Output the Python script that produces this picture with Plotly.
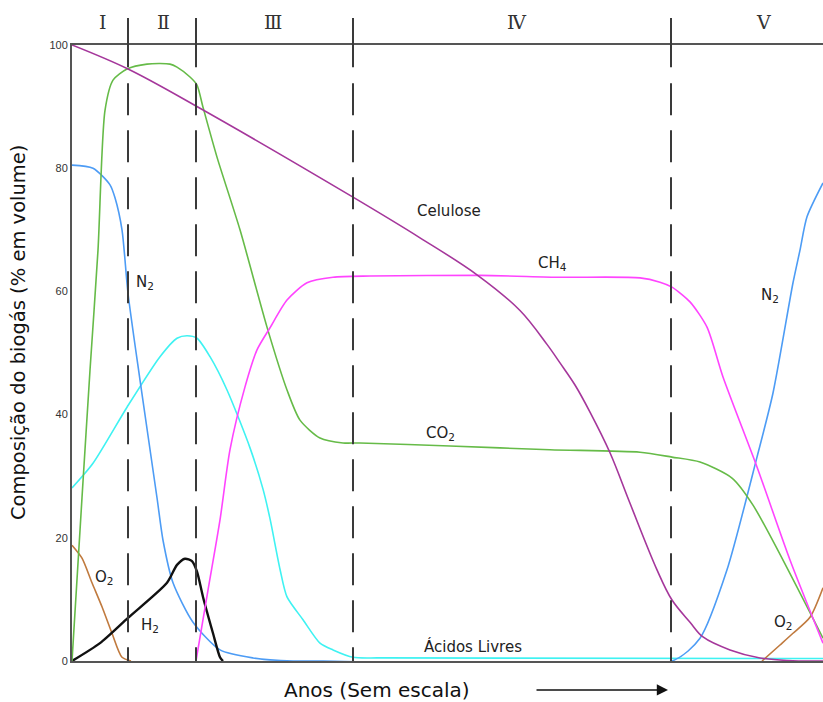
import plotly.graph_objects as go

# Tempo em unidades arbitrárias (sem escala); valores em % do volume
celulose_x = [0, 56, 124, 281, 348, 405, 448, 475, 488, 503, 518, 538, 558, 585, 600, 618, 631, 658, 688, 728, 751]
celulose_y = [100.0, 96.1, 90.1, 75.3, 68.7, 62.7, 56.9, 51.4, 48.4, 44.8, 40.4, 33.8, 25.6, 14.8, 9.9, 6.3, 3.9, 1.8, 0.5, 0, 0]

ch4_x = [124, 136, 148, 158, 173, 185, 198, 215, 235, 261, 298, 408, 488, 568, 588, 600, 618, 635, 651, 685, 718, 751]
ch4_y = [0, 11.5, 22.9, 34.3, 44.5, 50.5, 54.1, 58.6, 61.4, 62.3, 62.5, 62.6, 62.3, 62.2, 61.5, 60.7, 58.3, 54.2, 46.1, 31.5, 16.4, 2.9]

co2_x = [0, 10, 18, 26, 33, 41, 55, 75, 98, 105, 118, 125, 131, 145, 168, 195, 215, 228, 248, 271, 288, 378, 478, 568, 600, 628, 660, 681, 751]
co2_y = [0, 26.5, 47.2, 66.7, 89.4, 94.3, 96.1, 96.9, 96.9, 96.4, 94.8, 93.5, 89.9, 81.8, 70.0, 54.2, 44.0, 39.1, 36.2, 35.4, 35.4, 34.9, 34.3, 33.9, 33.1, 32.3, 29.7, 25.3, 3.7]

n2_x = [0, 21, 38, 43, 50, 56, 68, 85, 91, 101, 121, 148, 181, 221, 251, 600, 628, 655, 685, 701, 721, 728, 735, 751]
n2_y = [80.5, 80.0, 77.3, 75.2, 70.0, 59.7, 45.6, 26.5, 19.6, 12.7, 6.3, 1.8, 0.5, 0, 0, 0, 3.7, 14.8, 33.1, 43.5, 61.4, 66.7, 72.1, 77.6]

acidos_x = [0, 21, 55, 88, 105, 115, 125, 138, 155, 178, 191, 198, 208, 215, 231, 248, 261, 281, 308, 751]
acidos_y = [28.1, 32.1, 41.2, 49.4, 52.4, 52.8, 52.4, 49.4, 44.0, 34.6, 27.9, 23.1, 14.9, 10.4, 6.7, 2.9, 1.8, 0.6, 0.5, 0.4]

h2_x = [0, 28, 56, 95, 105, 113, 120, 125, 131, 141, 148, 151]
h2_y = [0, 2.9, 7.0, 12.7, 15.6, 16.6, 16.2, 14.5, 10.4, 4.5, 0.6, 0]

o2a_x = [0, 10, 20, 30, 40, 50, 59]
o2a_y = [18.8, 16.7, 12.7, 8.8, 4.5, 0.6, 0]
o2b_x = [690, 708, 721, 738, 751]
o2b_y = [0, 2.6, 4.5, 7.1, 11.9]

fases_x = [56, 124, 281, 599]
fases_labels = ["Ⅰ", "Ⅱ", "Ⅲ", "Ⅳ", "Ⅴ"]
fases_label_x = [31, 91, 201, 445, 691]

y_ticks = [0, 20, 40, 60, 80, 100]

fig = go.Figure()

def add(x, y, color, width=1.6, name="", smoothing=0.7):
    fig.add_trace(go.Scatter(x=x, y=y, mode="lines", name=name,
                             line=dict(color=color, width=width, shape="spline", smoothing=smoothing),
                             hoverinfo="skip"))

add(acidos_x, acidos_y, "#3ff2f2", name="Ácidos Livres")
add(n2_x, n2_y, "#4d9cf5", name="N2")
add(o2a_x, o2a_y, "#c07a3e", name="O2")
add(o2b_x, o2b_y, "#c07a3e", name="O2")
add(h2_x, h2_y, "#111111", width=2.4, name="H2")
add(co2_x, co2_y, "#66bb48", name="CO2")
add(ch4_x, ch4_y, "#ff44ff", name="CH4")
add(celulose_x, celulose_y, "#a5379b", name="Celulose", smoothing=1.0)

shapes = []
for fx in fases_x:
    shapes.append(dict(type="line", xref="x", yref="paper", x0=fx, x1=fx,
                       y0=0.964, y1=1.044, line=dict(color="#3a3a3a", width=2)))
    shapes.append(dict(type="line", xref="x", yref="paper", x0=fx, x1=fx,
                       y0=0.938, y1=0.0, line=dict(color="#3a3a3a", width=2, dash="32px,15px")))

lab_font = dict(family="DejaVu Sans", size=15, color="#222222")
annotations = [
    dict(x=73, y=61.4, text="N<sub>2</sub>"),
    dict(x=377, y=73.1, text="Celulose"),
    dict(x=480, y=64.6, text="CH<sub>4</sub>"),
    dict(x=698, y=59.4, text="N<sub>2</sub>"),
    dict(x=368, y=37.0, text="CO<sub>2</sub>"),
    dict(x=32, y=13.6, text="O<sub>2</sub>"),
    dict(x=78, y=5.8, text="H<sub>2</sub>"),
    dict(x=401, y=2.3, text="Ácidos Livres"),
    dict(x=711, y=6.3, text="O<sub>2</sub>"),
]
for a in annotations:
    a.update(xref="x", yref="y", showarrow=False, font=lab_font)

for lx, lt in zip(fases_label_x, fases_labels):
    annotations.append(dict(x=lx, y=1.037, xref="x", yref="paper", text=lt, showarrow=False,
                            xanchor="center", yanchor="middle",
                            font=dict(family="DejaVu Serif", size=19, color="#333333")))

annotations.append(dict(x=0.406, y=-0.047, xref="paper", yref="paper", text="Anos (Sem escala)",
                        showarrow=False, xanchor="center", yanchor="middle",
                        font=dict(family="DejaVu Sans", size=20, color="#111111")))
annotations.append(dict(x=-0.0719, y=0.534, xref="paper", yref="paper", textangle=-90,
                        xanchor="center", yanchor="middle",
                        text="Composição do biogás (% em volume)", showarrow=False,
                        font=dict(family="DejaVu Sans", size=19.5, color="#111111")))
annotations.append(dict(x=596, y=-0.047, xref="x", yref="paper", ax=-133, ay=0, text="",
                        showarrow=True, arrowhead=2, arrowsize=1.6, arrowwidth=1.4,
                        arrowcolor="#111111"))

fig.update_layout(
    width=823, height=702,
    margin=dict(l=72, r=0, t=45, b=41),
    paper_bgcolor="white", plot_bgcolor="white",
    showlegend=False,
    shapes=shapes,
    annotations=annotations,
    xaxis=dict(range=[0, 751], showgrid=False, zeroline=False, showticklabels=False,
               ticks="", showline=True, mirror=True, linecolor="#555555", linewidth=2),
    yaxis=dict(range=[0, 100], showgrid=False, zeroline=False, tickvals=y_ticks,
               ticks="", showline=True, linecolor="#555555", linewidth=2,
               tickfont=dict(family="Liberation Sans", size=11, color="#333333")),
)

fig.write_html("out.html", config={"displayModeBar": False},
               post_script="document.body.style.margin='0';document.body.style.overflow='hidden';")
